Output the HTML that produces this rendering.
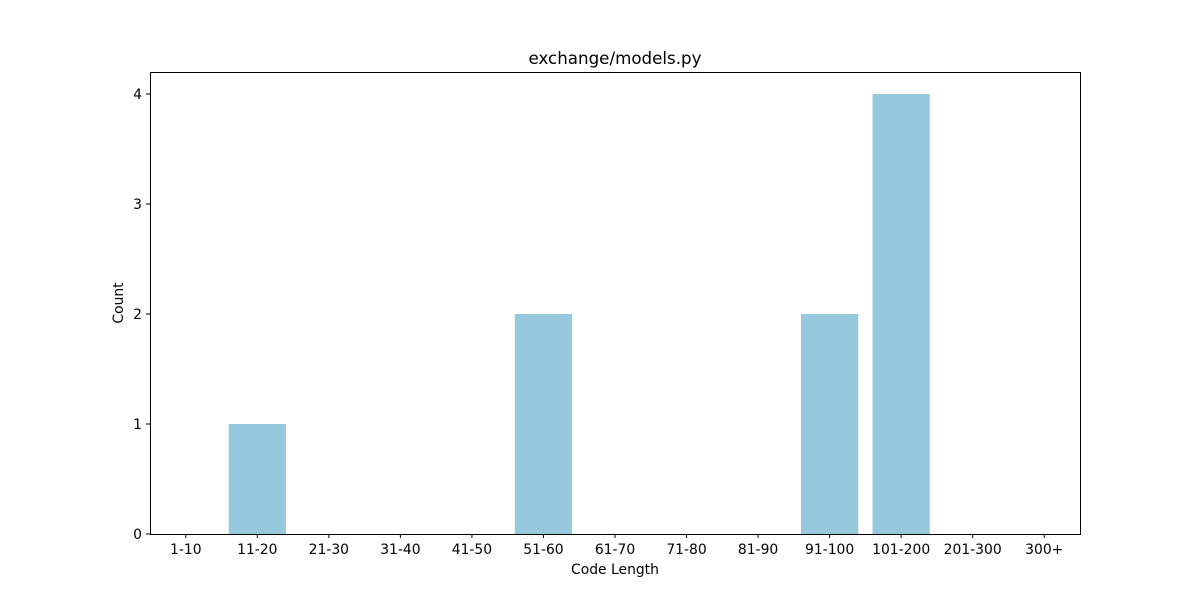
<!DOCTYPE html>
<html><head><meta charset="utf-8"><style>
body{margin:0;background:#fff;font-family:"Liberation Sans","DejaVu Sans",sans-serif;}
svg text{font-family:"DejaVu Sans","Liberation Sans",sans-serif;font-size:13.9px;fill:#000}
</style></head><body>
<svg id="chart" width="1200" height="600">
<rect width="1200" height="600" fill="#fff"/>
<g id="bars"></g><g id="xt"></g><g id="yt"></g>
<rect x="150.5" y="72.5" width="930" height="462" fill="none" stroke="#000" stroke-width="1"/>
<text x="615" y="64" text-anchor="middle" style="font-size:16.7px">exchange/models.py</text>
<text x="615" y="574" text-anchor="middle">Code Length</text>
<text transform="translate(123,303) rotate(-90)" text-anchor="middle">Count</text>
</svg>
<script>
const categories=["1-10","11-20","21-30","31-40","41-50","51-60","61-70","71-80","81-90","91-100","101-200","201-300","300+"];
const counts=[0,1,0,0,0,2,0,0,0,2,4,0,0];
const yTicks=[0,1,2,3,4];
const L=150,R=1080,T=72,B=534,yMax=4.2;
const step=(R-L)/categories.length;
const xs=i=>L+step*(i+0.5);
const ys=v=>B-(B-T)*v/yMax;
const ns="http://www.w3.org/2000/svg";
const bars=document.getElementById('bars'),xt=document.getElementById('xt'),yt=document.getElementById('yt');
categories.forEach((c,i)=>{
 const w=step*0.8;
 const r=document.createElementNS(ns,'rect');
 r.setAttribute('x',xs(i)-w/2);r.setAttribute('y',ys(counts[i]));
 r.setAttribute('width',w);r.setAttribute('height',B-ys(counts[i]));
 r.setAttribute('fill','#96c9dd');
 
 
 bars.appendChild(r);
 const t=document.createElementNS(ns,'line');
 t.setAttribute('x1',xs(i));t.setAttribute('x2',xs(i));t.setAttribute('y1',B);t.setAttribute('y2',B+4);t.setAttribute('stroke','#000');
 xt.appendChild(t);
 const tx=document.createElementNS(ns,'text');
 tx.setAttribute('x',xs(i));tx.setAttribute('y',B+20);tx.setAttribute('text-anchor','middle');tx.textContent=c;
 
 
 xt.appendChild(tx);
});
yTicks.forEach(v=>{
 const t=document.createElementNS(ns,'line');
 t.setAttribute('x1',L-4);t.setAttribute('x2',L);t.setAttribute('y1',ys(v));t.setAttribute('y2',ys(v));t.setAttribute('stroke','#000');
 yt.appendChild(t);
 const tx=document.createElementNS(ns,'text');
 tx.setAttribute('x',L-8);tx.setAttribute('y',ys(v)+5);tx.setAttribute('text-anchor','end');tx.textContent=v;
 
 
 yt.appendChild(tx);
});
</script>
</body></html>
